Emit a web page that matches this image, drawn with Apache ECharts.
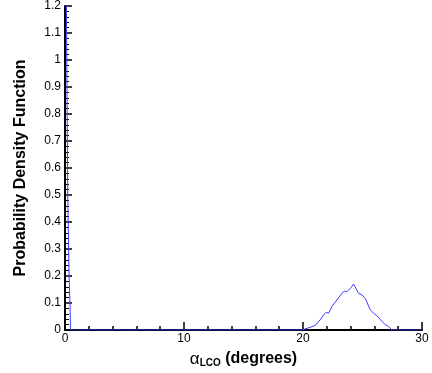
<!DOCTYPE html>
<html><head><meta charset="utf-8">
<script src="https://cdn.jsdelivr.net/npm/echarts@6/dist/echarts.min.js"></script>
<style>html,body{margin:0;padding:0;background:#fff}#c{width:432px;height:373px}</style>
</head><body><div id="c"></div>
<script>
var spikeX = [0.02, 0.1, 0.15, 0.23, 0.34, 0.42, 0.46];
var spikeY = [2.0, 1.35, 1.0, 0.5, 0.2, 0.1, 0.0];
var flatX = [1, 5, 10, 15, 19.5];
var flatY = [0, 0, 0, 0, 0];
var bumpX = [19.9, 20.6, 21.03, 21.45, 21.73, 21.95, 22.15, 22.43, 22.85, 23.27, 23.47, 23.69, 23.83, 24.03, 24.25, 24.47, 24.67, 24.95, 25.23, 25.65, 25.93, 26.21, 26.63, 26.91, 27.19, 27.48, 28, 30];
var bumpY = [0, 0.01, 0.017, 0.038, 0.056, 0.066, 0.062, 0.087, 0.111, 0.136, 0.144, 0.142, 0.139, 0.157, 0.170, 0.152, 0.136, 0.130, 0.117, 0.075, 0.062, 0.053, 0.032, 0.020, 0.013, 0, 0, 0];
var xTicks = [0, 10, 20, 30];
var yTicks = [0, 0.1, 0.2, 0.3, 0.4, 0.5, 0.6, 0.7, 0.8, 0.9, 1, 1.1, 1.2];

var allX = spikeX.concat(flatX, bumpX);
var allY = spikeY.concat(flatY, bumpY);
var data = allX.map(function (x, i) { return [x, allY[i]]; });

var FONT = 'Liberation Sans, Arial, sans-serif';
var chart = echarts.init(document.getElementById('c'));
chart.setOption({
  animation: false,
  grid: { left: 65, right: 10, top: 5, bottom: 41, containLabel: false },
  xAxis: {
    type: 'value', min: 0, max: 30, interval: 10,
    axisLine: { lineStyle: { color: '#000', width: 2 } },
    axisTick: { inside: true, length: 8, lineStyle: { color: '#000', width: 1.5 } },
    minorTick: { show: true, splitNumber: 5, length: 4, lineStyle: { color: '#000', width: 1.5 } },
    splitLine: { show: false },
    axisLabel: { color: '#000', fontFamily: FONT, fontSize: 12, margin: 3 },
    name: '{a|α}{s|LCO}{b| (degrees)}',
    nameLocation: 'middle', nameGap: 20,
    nameTextStyle: {
      rich: {
        a: { fontFamily: FONT, fontSize: 17, color: '#000', fontWeight: 'normal' },
        s: { fontFamily: FONT, fontSize: 10, color: '#000', fontWeight: 'bold', padding: [8, 0, 0, 0] },
        b: { fontFamily: FONT, fontSize: 16, color: '#000', fontWeight: 'bold' }
      }
    }
  },
  yAxis: {
    type: 'value', min: 0, max: 1.2, interval: 0.1,
    axisLine: { show: true, lineStyle: { color: '#000', width: 2 } },
    axisTick: { show: true, inside: true, length: 7, lineStyle: { color: '#000', width: 1.5 } },
    minorTick: { show: true, splitNumber: 5, length: 4, lineStyle: { color: '#000', width: 1 } },
    splitLine: { show: false },
    axisLabel: { color: '#000', fontFamily: FONT, fontSize: 12, margin: 4,
      formatter: function (v) { return String(Math.round(v * 10) / 10); } },
    name: 'Probability Density Function',
    nameLocation: 'middle', nameGap: 36,
    nameTextStyle: { fontFamily: FONT, fontSize: 16, fontWeight: 'bold', color: '#000' }
  },
  series: [{
    type: 'line', data: data, showSymbol: false, clip: true,
    lineStyle: { color: '#3b3bff', width: 1 }, z: 1
  }]
});
</script></body></html>
